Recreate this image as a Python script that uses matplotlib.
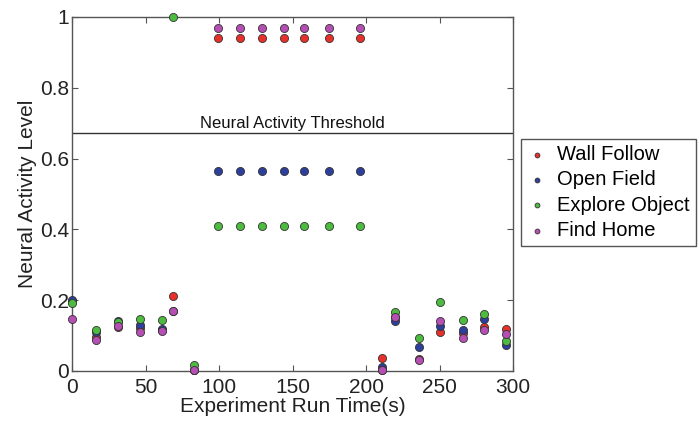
import matplotlib
matplotlib.use("Agg")
import matplotlib.pyplot as plt

plt.rcParams['font.family'] = ['Liberation Sans', 'DejaVu Sans']

# Sample times (s)
time_s = [0, 16, 31, 46, 61, 69, 83, 99, 114, 129, 144, 158, 175, 196,
          211, 220, 236, 250, 266, 280, 295]

wall_follow = [0.198, 0.097, 0.123, 0.120, 0.115, 0.212, 0.003,
               0.940, 0.940, 0.940, 0.940, 0.940, 0.940, 0.940,
               0.036, 0.152, 0.035, 0.111, 0.108, 0.124, 0.119]
open_field = [0.200, 0.109, 0.141, 0.129, 0.118, 0.168, 0.003,
              0.564, 0.564, 0.564, 0.564, 0.564, 0.564, 0.564,
              0.012, 0.141, 0.068, 0.128, 0.116, 0.146, 0.072]
explore_object = [0.191, 0.117, 0.138, 0.146, 0.143, 1.000, 0.017,
                  0.408, 0.408, 0.408, 0.408, 0.408, 0.408, 0.408,
                  0.003, 0.167, 0.094, 0.195, 0.143, 0.162, 0.085]
find_home = [0.146, 0.087, 0.127, 0.111, 0.112, 0.168, 0.003,
             0.968, 0.968, 0.968, 0.968, 0.968, 0.968, 0.968,
             0.003, 0.151, 0.031, 0.141, 0.092, 0.117, 0.104]

threshold = 0.672

series = [
    ("Wall Follow", wall_follow, '#e8302a'),
    ("Open Field", open_field, '#2e3e9c'),
    ("Explore Object", explore_object, '#4cbb3f'),
    ("Find Home", find_home, '#b64fb3'),
]

fig = plt.figure(figsize=(6.99, 4.22), dpi=100)
ax = fig.add_axes([0.103, 0.121, 0.631, 0.839])

for name, vals, color in series:
    ax.scatter(time_s, vals, s=34, color=color, edgecolors='#333333',
               linewidths=0.6, label=name, clip_on=False, zorder=3)

ax.axhline(threshold, color='#333333', linewidth=1.0)
ax.text(150, threshold + 0.006, 'Neural Activity Threshold', ha='center',
        va='bottom', fontsize=12, color='#111111')

ax.set_xlim(0, 300)
ax.set_ylim(0, 1)
ax.set_xticks([0, 50, 100, 150, 200, 250, 300])
ax.set_yticks([0, 0.2, 0.4, 0.6, 0.8, 1])
ax.set_yticklabels(['0', '0.2', '0.4', '0.6', '0.8', '1'])
ax.tick_params(direction='in', top=True, right=True, labelsize=15,
               length=4, color='#555555', labelcolor='#222222', pad=2)
ax.tick_params(axis='x', pad=5)
for sp in ax.spines.values():
    sp.set_color('#555555')
    sp.set_linewidth(1.0)

ax.set_xlabel('Experiment Run Time(s)', fontsize=15, color='#222222', labelpad=0)
ax.set_ylabel('Neural Activity Level', fontsize=15, color='#222222', labelpad=2)

leg = fig.legend(loc='upper left', bbox_to_anchor=(0.745, 0.671),
                 fontsize=14.5, markerscale=0.6, handlelength=1.0,
                 handletextpad=0.5, borderaxespad=0, fancybox=False,
                 framealpha=1, edgecolor='#555555', labelspacing=0.32,
                 borderpad=0.3)

fig.savefig('out.png', dpi=100)
